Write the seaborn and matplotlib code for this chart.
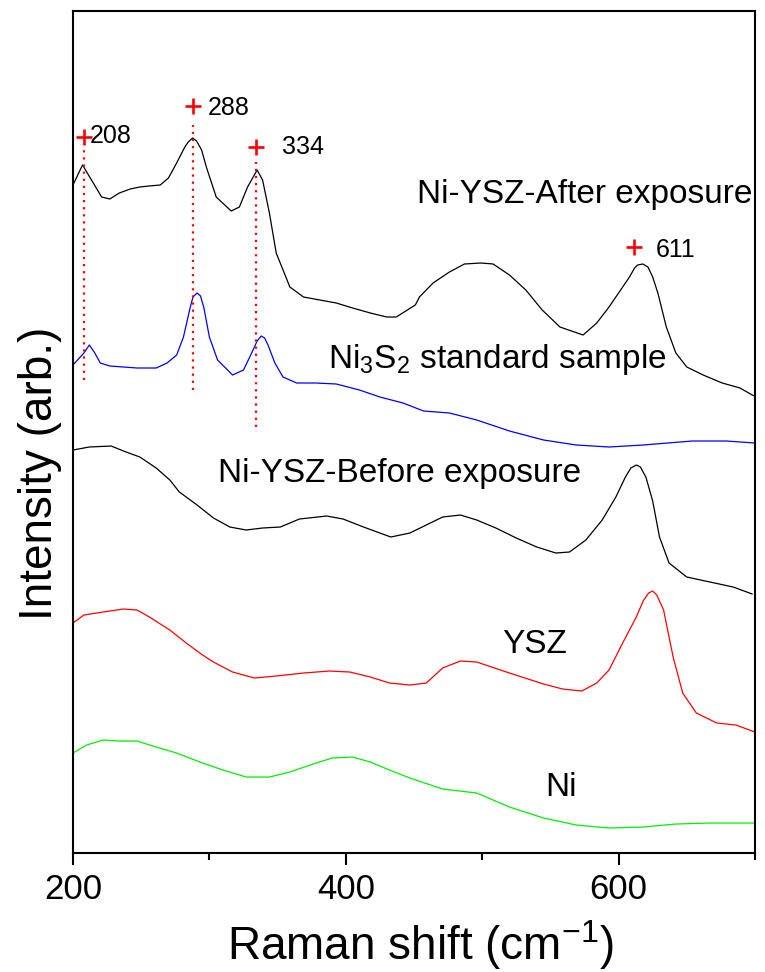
import matplotlib
matplotlib.use("Agg")
import matplotlib.pyplot as plt
import seaborn as sns
import pandas as pd

# Raman shift (cm^-1) and offset intensities (arb. units) for each sample
after_x = [200, 207, 221, 227, 234, 242, 249, 256, 264, 270, 276, 282, 284.5, 287.7, 290.6,
           294.3, 298, 305, 316, 322, 328, 335, 339, 344, 349, 359, 369, 381, 393, 405, 418,
           430, 437, 451, 454, 464, 476, 487, 499, 508, 520, 532, 544, 557, 574, 584, 593,
           603, 608, 611.7, 614, 617.8, 621.5, 625, 628.8, 635, 642, 650, 662, 676, 689,
           698, 700]
after_y = [668, 688, 656, 654, 660, 664, 666, 667, 668, 675, 690, 706, 711, 715, 712,
           703, 685, 656, 642, 646, 666, 683, 673, 640, 600, 566, 556, 553, 550, 545, 540,
           536, 536, 548, 556, 570, 581, 589, 590, 589, 578, 563, 543, 526, 518, 530, 546,
           566, 576, 585, 588, 589, 586, 576, 560, 526, 500, 486, 478, 470, 465,
           458, 457]

ni3s2_x = [200, 208, 212, 216, 220, 227, 237, 247, 261, 269, 276, 281, 286, 288, 291,
           293.5, 296, 300, 306, 317, 325, 331, 335, 338, 340.5, 343, 348, 354, 364, 378,
           393, 410, 425, 442, 457, 476, 496, 520, 545, 569, 593, 618, 654, 679, 700]
ni3s2_y = [488, 500, 508, 500, 490, 487, 486, 485, 485, 490, 498, 516, 546, 556, 560,
           557, 545, 516, 493, 478, 483, 500, 512, 517, 515, 508, 490, 476, 470, 470,
           469, 463, 456, 450, 442, 440, 433, 422, 413, 408, 406, 408, 412, 412, 410]

before_x = [200, 212, 228, 237, 249, 261, 271, 278, 291, 303, 315, 327, 339, 352, 366, 386,
            398, 413, 423, 433, 447, 459, 471, 484, 496, 510, 525, 540, 554, 564, 576, 588,
            598, 605, 609, 613, 616, 620, 625, 630, 637, 650, 667, 684, 698]
before_y = [403, 406, 407, 402, 396, 385, 373, 361, 348, 335, 326, 323, 325, 326, 334, 337,
            334, 326, 321, 316, 320, 328, 336, 338, 333, 325, 315, 306, 300, 301, 313, 333,
            356, 376, 385, 388, 386, 376, 352, 316, 290, 276, 271, 266, 259]

ysz_x = [200, 208, 222, 237, 247, 256, 271, 283, 295, 303, 317, 333, 349, 369, 388, 403,
         418, 432, 447, 459, 471, 484, 496, 520, 545, 559, 573, 584, 593, 603, 613, 618,
         622, 625, 628, 633, 640, 647, 657, 672, 686, 700]
ysz_y = [230, 238, 241, 244, 243, 236, 223, 210, 198, 191, 181, 175, 177, 180, 182, 181,
         176, 170, 168, 170, 185, 192, 191, 180, 169, 164, 162, 170, 183, 210, 236, 252,
         260, 262, 258, 243, 196, 160, 140, 130, 128, 121]

ni_x = [200, 210, 222, 234, 247, 261, 276, 295, 310, 327, 344, 359, 376, 390, 405, 418,
        432, 447, 471, 496, 520, 545, 569, 593, 618, 642, 667, 700]
ni_y = [100, 108, 113, 112, 112, 106, 100, 90, 83, 76, 76, 81, 89, 95, 96, 91,
        83, 75, 64, 60, 46, 35, 28, 25, 26, 29, 30, 30]

# Ni3S2 band positions marked on the spectra
peak_pos = [208, 288, 334, 611]
peak_mark_y = [716, 747, 706, 606]
peak_text_x = [212.5, 299, 353, 627.5]
peak_text_y = [710, 738, 699, 596]
guide_pos = [208, 288, 334]
guide_top = [705, 728, 691]
guide_bottom = [473, 463, 426]

curve_names = ["Ni-YSZ-After exposure", "Ni$_3$S$_2$ standard sample",
               "Ni-YSZ-Before exposure", "YSZ", "Ni"]
curve_colors = ["black", "#0000FF", "black", "#FF0000", "#00EE00"]
name_x = [452, 387, 306, 515, 546]
name_y = [650, 485, 371, 200, 57]

sns.set_theme(style="white")
plt.rcParams["font.family"] = ["Liberation Sans", "DejaVu Sans"]
plt.rcParams["mathtext.fontset"] = "custom"
plt.rcParams["mathtext.rm"] = "Liberation Sans"
plt.rcParams["mathtext.it"] = "Liberation Sans:italic"
plt.rcParams["mathtext.bf"] = "Liberation Sans:bold"
plt.rcParams["text.color"] = "black"
plt.rcParams["axes.labelcolor"] = "black"
plt.rcParams["xtick.color"] = "black"
plt.rcParams["xtick.labelcolor"] = "black"

fig = plt.figure(figsize=(7.65, 9.72), dpi=100)
ax = fig.add_axes([0.0954, 0.1224, 0.8915, 0.8663])

series = [(after_x, after_y), (ni3s2_x, ni3s2_y), (before_x, before_y),
          (ysz_x, ysz_y), (ni_x, ni_y)]
for (xs, ys), col in zip(series, curve_colors):
    df = pd.DataFrame({"shift": xs, "intensity": ys})
    sns.lineplot(data=df, x="shift", y="intensity", color=col, lw=0.9, ax=ax)

# dotted guides through the Ni3S2 bands
for gx, gt, gb in zip(guide_pos, guide_top, guide_bottom):
    ax.plot([gx, gx], [gb, gt], color="#FF0000", lw=1.6, ls=(0, (1, 2.2)))

ax.scatter(peak_pos, peak_mark_y, marker="+", s=120, color="#FF0000",
           linewidths=1.9, zorder=5)
for px, tx, ty in zip(peak_pos, peak_text_x, peak_text_y):
    ax.text(tx, ty, str(px), fontsize=18, color="black", ha="left", va="baseline")

for name, nx, ny in zip(curve_names, name_x, name_y):
    ax.text(nx, ny, name, fontsize=24, color="black", ha="left", va="baseline",
            clip_on=False)

ax.set_xlim(200, 700)
ax.set_ylim(0, 842)
ax.set_xticks([200, 400, 600])
ax.set_xticks([300, 500, 700], minor=True)
ax.set_yticks([])
ax.tick_params(axis="x", which="major", direction="out", length=8.5, width=1.5,
               labelsize=25, pad=6, colors="black", bottom=True)
ax.tick_params(axis="x", which="minor", direction="out", length=5, width=1.5,
               bottom=True)
for sp in ax.spines.values():
    sp.set_linewidth(1.5)
    sp.set_color("black")

ax.set_xlabel("Raman shift (cm$^{-1}$)", fontsize=33, color="black")
ax.set_ylabel("Intensity (arb.)", fontsize=33, color="black")
ax.xaxis.set_label_coords(0.509, -0.077)
ax.yaxis.set_label_coords(-0.016, 0.4507)

fig.savefig("out.png", dpi=100)
